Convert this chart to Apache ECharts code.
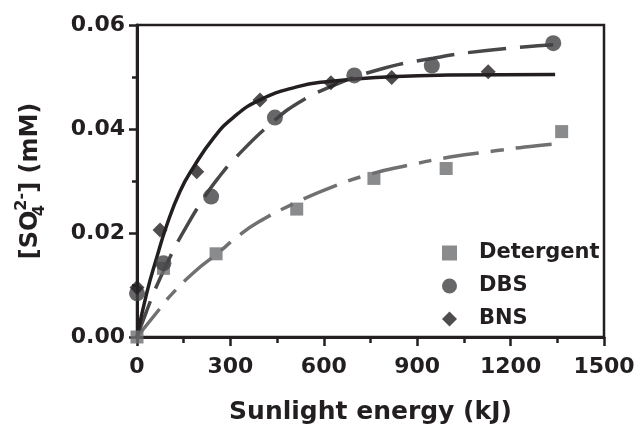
<!DOCTYPE html>
<html>
<head>
<meta charset="utf-8">
<script src="https://cdn.jsdelivr.net/npm/echarts@6/dist/echarts.min.js"></script>
<style>
  html, body { margin: 0; padding: 0; background: #fff; }
  #main { width: 641px; height: 431px; }
</style>
</head>
<body>
<div id="main"></div>
<script>
// 测量点 [能量 kJ, 浓度 mM]
var detergentPts = [[0, 0], [85, 0.0132], [254, 0.0160], [513, 0.0246], [761, 0.0305], [993, 0.0324], [1364, 0.0395]];
var dbsPts = [[0, 0.0084], [85, 0.0142], [238, 0.0270], [443, 0.0422], [698, 0.0503], [947, 0.0522], [1337, 0.0565]];
var bnsPts = [[0, 0.0095], [74, 0.0206], [192, 0.0318], [395, 0.0456], [623, 0.0489], [818, 0.0499], [1128, 0.0510]];

// 拟合曲线（从图上读的点）
var detergentFit = [[0, 0], [74, 0.0055], [111, 0.0082], [186, 0.0126], [257, 0.0160], [325, 0.0194], [390, 0.0221],
  [502, 0.0256], [620, 0.0287], [748, 0.0313], [870, 0.0330], [1005, 0.0346], [1150, 0.0358], [1284, 0.0368], [1365, 0.0372]];
var dbsFit = [[0, 0], [31, 0.0050], [63, 0.0098], [117, 0.0167], [143, 0.0196], [208, 0.0261], [260, 0.0305], [320, 0.0347],
  [437, 0.0414], [520, 0.0451], [609, 0.0478], [770, 0.0513], [951, 0.0536], [1123, 0.0551], [1337, 0.0562]];
var bnsFit = [[0, 0], [31, 0.0084], [63, 0.0152], [95, 0.0214], [138, 0.0280], [181, 0.0326], [245, 0.0382],
  [309, 0.0422], [395, 0.0456], [513, 0.0481], [609, 0.0491], [800, 0.0500], [1000, 0.0504], [1343, 0.0505]];

var seriesNames = ["Detergent", "DBS", "BNS"];
var xTicks = { min: 0, max: 1500, step: 300 };
var yTicks = { min: 0, max: 0.06, step: 0.02 };

var ink = "#231f20";
var font = "DejaVu Sans";

var myChart = echarts.init(document.getElementById("main"));

var option = {
  backgroundColor: "#fff",
  animation: false,
  grid: {
    left: 137, right: 37, top: 25, bottom: 94,
    show: true,
    borderColor: ink,
    borderWidth: 2.5
  },
  legend: {
    orient: "vertical",
    left: 437,
    top: 237,
    itemWidth: 15,
    itemHeight: 15,
    itemGap: 11,
    data: [
      { name: "Detergent", icon: "rect", itemStyle: { color: "#6d6e70" } },
      { name: "DBS", icon: "circle", itemStyle: { color: "#414042" } },
      { name: "BNS", icon: "diamond", itemStyle: { color: ink } }
    ],
    textStyle: {
      fontFamily: font, fontWeight: "bold", fontSize: 21, color: ink,
      lineHeight: 22, padding: [0, 0, 0, 17]
    }
  },
  xAxis: {
    type: "value",
    min: xTicks.min, max: xTicks.max, interval: xTicks.step,
    name: "Sunlight energy (kJ)",
    nameLocation: "middle",
    nameGap: 63,
    nameTextStyle: { fontFamily: font, fontWeight: "bold", fontSize: 25, color: ink },
    axisLine: { lineStyle: { color: ink, width: 3 } },
    axisTick: { inside: false, length: 9, lineStyle: { color: ink, width: 2.5 } },
    minorTick: { show: true, splitNumber: 2, length: 6, lineStyle: { color: ink, width: 2.5 } },
    splitLine: { show: false },
    axisLabel: {
      margin: 19, fontFamily: font, fontWeight: "bold", fontSize: 22, color: ink,
      formatter: function (v) { return String(v); }
    }
  },
  yAxis: {
    type: "value",
    min: yTicks.min, max: yTicks.max, interval: yTicks.step,
    name: "{a|[SO}{b|4}{c|2-}{a|] (mM)}",
    nameLocation: "middle",
    nameGap: 89,
    nameTextStyle: {
      color: ink,
      rich: {
        a: { fontFamily: font, fontWeight: "bold", fontSize: 24, lineHeight: 34, color: ink },
        b: { fontFamily: font, fontWeight: "bold", fontSize: 16, lineHeight: 16, verticalAlign: "bottom", width: 0, color: ink },
        c: { fontFamily: font, fontWeight: "bold", fontSize: 16, lineHeight: 16, verticalAlign: "top", color: ink }
      }
    },
    axisLine: { show: true, lineStyle: { color: ink, width: 3 } },
    axisTick: { show: true, inside: false, length: 8, lineStyle: { color: ink, width: 2.5 } },
    minorTick: { show: true, splitNumber: 2, length: 5, lineStyle: { color: ink, width: 2.5 } },
    splitLine: { show: false },
    axisLabel: {
      margin: 12, fontFamily: font, fontWeight: "bold", fontSize: 22, color: ink,
      formatter: function (v) { return v.toFixed(2); }
    }
  },
  series: [
    {
      name: "DetergentFit", type: "line", data: detergentFit, showSymbol: false, symbol: "none",
      smooth: 0.5, lineStyle: { color: "#707072", width: 3.5, type: [36, 12, 13, 12] }, z: 2
    },
    {
      name: "DBSFit", type: "line", data: dbsFit, showSymbol: false, symbol: "none",
      smooth: 0.5, lineStyle: { color: "#48484a", width: 3.5, type: [38, 14] }, z: 2
    },
    {
      name: "BNSFit", type: "line", data: bnsFit, showSymbol: false, symbol: "none",
      smooth: 0.5, lineStyle: { color: ink, width: 3.5, type: "solid" }, z: 3
    },
    {
      name: seriesNames[0], type: "scatter", data: detergentPts, symbol: "rect", symbolSize: 13,
      itemStyle: { color: "#6d6e70" }, z: 4
    },
    {
      name: seriesNames[1], type: "scatter", data: dbsPts, symbol: "circle", symbolSize: 16,
      itemStyle: { color: "#414042" }, z: 4
    },
    {
      name: seriesNames[2], type: "scatter", data: bnsPts, symbol: "diamond", symbolSize: 15,
      itemStyle: { color: ink }, z: 5
    }
  ]
};

myChart.setOption(option);
</script>
</body>
</html>
